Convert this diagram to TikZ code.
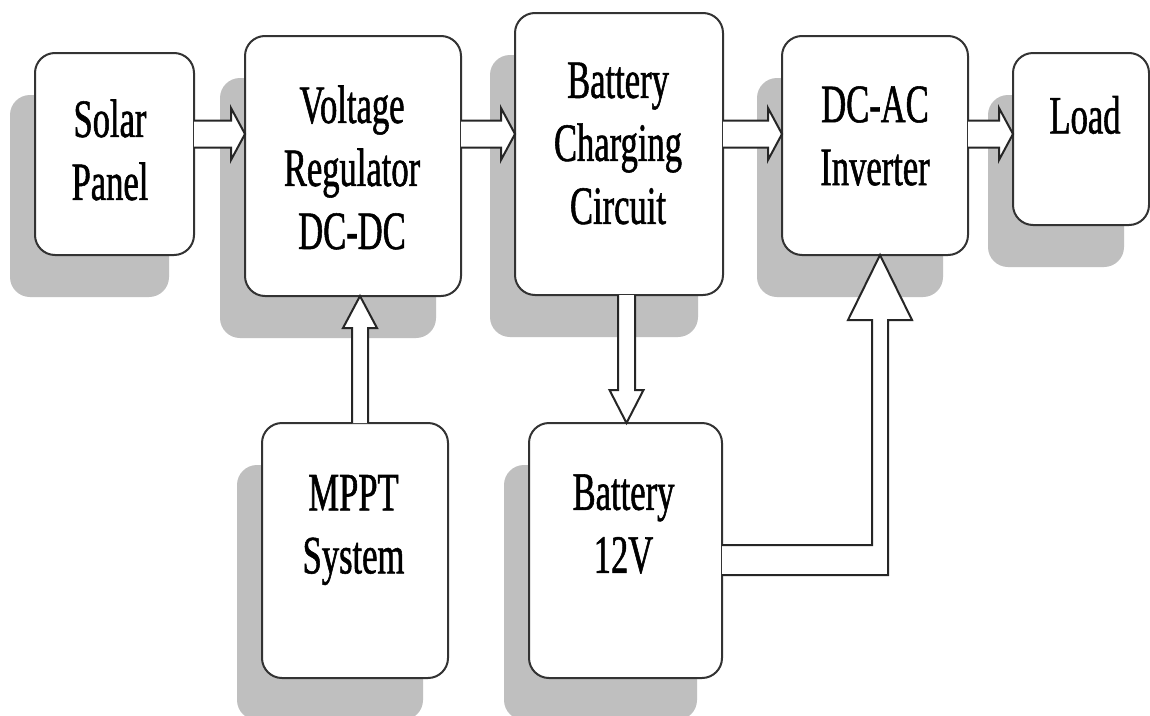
\documentclass[tikz,border=0pt]{standalone}
\usepackage{fontspec}
\setmainfont{Liberation Serif}[FakeStretch=0.64,FakeBold=1]
\usetikzlibrary{calc,shadows}
\tikzset{
  box/.style={draw=black!80, line width=2pt, rounded corners=20pt, fill=white,
    outer sep=0pt, inner sep=0pt,
    drop shadow={shadow xshift=-25pt, shadow yshift=-42pt, fill=black!25, opacity=1}},
  txt/.style={align=center, inner sep=0pt, font=\fontsize{54}{63}\selectfont},
  barrow/.style={draw=black!85, line width=2pt, fill=white, line join=miter}
}
\newcommand{\harr}[3]{%
  \draw[barrow] let \p1=(#1.east), \p2=(#2.west), \p3=(0,#3) in
   (\x1,\y3+13.5pt) -- (\x2-14pt,\y3+13.5pt) -- (\x2-14pt,\y3+26pt) -- (\x2,\y3)
   -- (\x2-14pt,\y3-26pt) -- (\x2-14pt,\y3-13.5pt) -- (\x1,\y3-13.5pt);}
\begin{document}
\begin{tikzpicture}[x=1pt,y=-1pt]
\fill[white] (0,0) rectangle (1150,715);
\useasboundingbox (0,0) rectangle (1150,715);
% boxes
\node[box, minimum width=159pt, minimum height=202pt] (sp)   at (114.5,154) {};
\node[box, minimum width=216pt, minimum height=260pt] (vr)   at (353,166) {};
\node[box, minimum width=208pt, minimum height=282pt] (bc)   at (619,154) {};
\node[box, minimum width=186pt, minimum height=219pt] (inv)  at (875,145.5) {};
\node[box, minimum width=136pt, minimum height=172pt] (load) at (1081,139) {};
\node[box, minimum width=186pt, minimum height=255pt] (mppt) at (355,550.5) {};
\node[box, minimum width=193pt, minimum height=255pt] (bat)  at (625.5,550.5) {};
% texts
\node[txt] (spt)   at (110,150)   {Solar\\Panel};
\node[txt] (vrt)   at (352,167.5) {Voltage\\Regulator\\DC-DC};
\node[txt] (bct)   at (618,143.5) {Battery\\Charging\\Circuit};
\node[txt] (invt)  at (875,136)   {DC-AC\\Inverter};
\node[txt] (loadt) at (1085,115)  {Load};
\node[txt] (mpptt) at (353.5,530) {MPPT\\System};
\node[txt] (batt)  at (623.5,524) {Battery\\12V};
% horizontal block arrows
\harr{sp}{vr}{134}
\harr{vr}{bc}{134}
\harr{bc}{inv}{134}
\harr{inv}{load}{134}
% MPPT -> regulator (up)
\draw[barrow] let \p1=(mppt.north), \p2=(vr.south), \p3=(360,0) in
  (\x3-8pt,\y1) -- (\x3-8pt,\y2-32pt) -- (\x3-17pt,\y2-32pt) -- (\x3,\y2)
  -- (\x3+17pt,\y2-32pt) -- (\x3+8pt,\y2-32pt) -- (\x3+8pt,\y1);
% charging -> battery (down)
\draw[barrow] let \p1=(bc.south), \p2=(bat.north), \p3=(626.5,0) in
  (\x3-8.5pt,\y1) -- (\x3-8.5pt,\y2+33pt) -- (\x3-17pt,\y2+33pt) -- (\x3,\y2)
  -- (\x3+17pt,\y2+33pt) -- (\x3+8.5pt,\y2+33pt) -- (\x3+8.5pt,\y1);
% battery -> inverter (elbow, up)
\draw[barrow] let \p1=(bat.east), \p2=(inv.south), \p3=(880,560) in
  (\x1,\y3+15pt) -- (\x3-8pt,\y3+15pt) -- (\x3-8pt,\y2-65pt) -- (\x3-32pt,\y2-65pt)
  -- (\x3,\y2) -- (\x3+32pt,\y2-65pt) -- (\x3+8pt,\y2-65pt) -- (\x3+8pt,\y3-15pt)
  -- (\x1,\y3-15pt);
\end{tikzpicture}
\end{document}
